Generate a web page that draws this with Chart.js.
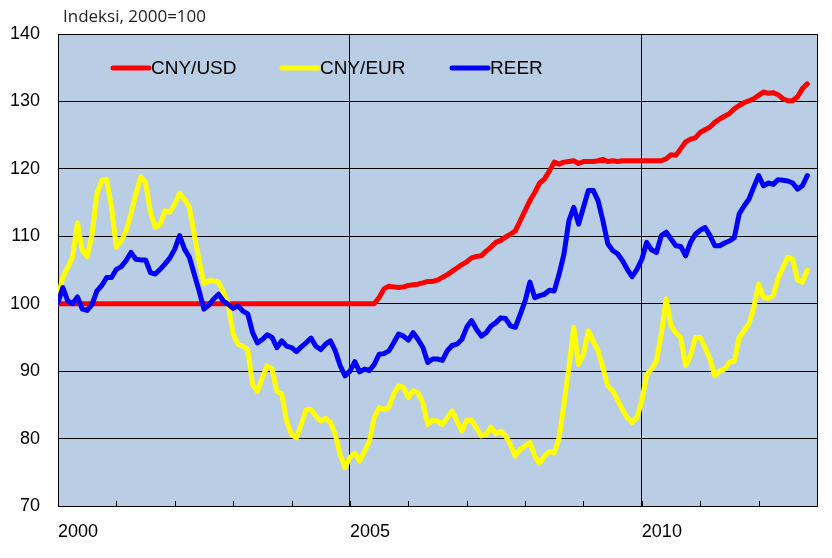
<!DOCTYPE html>
<html>
<head>
<meta charset="utf-8">
<script src="https://cdn.jsdelivr.net/npm/chart.js@4.4.0/dist/chart.umd.min.js"></script>
<style>
  html, body { margin: 0; padding: 0; background: #fff; }
  #wrap { width: 832px; height: 558px; }
</style>
</head>
<body>
<div id="wrap"><canvas id="chart" width="832" height="558"></canvas></div>
<script>
// monthly index values, Jan 2000 onwards (2000=100)
const startYear = 2000;
const seriesNames = ['CNY/USD', 'CNY/EUR', 'REER'];
const seriesColors = ['#ff0000', '#ffff00', '#0000ff'];

const cnyUsd = [
  100, 100, 100, 100, 100, 100, 100, 100, 100, 100, 100, 100,
  100, 100, 100, 100, 100, 100, 100, 100, 100, 100, 100, 100,
  100, 100, 100, 100, 100, 100, 100, 100, 100, 100, 100, 100,
  100, 100, 100, 100, 100, 100, 100, 100, 100, 100, 100, 100,
  100, 100, 100, 100, 100, 100, 100, 100, 100, 100, 100, 100,
  100, 100, 100, 100, 100, 100, 100.9, 102.2, 102.6, 102.5, 102.4, 102.5,
  102.7, 102.8, 102.9, 103.1, 103.3, 103.3, 103.5, 103.9, 104.3, 104.8, 105.3, 105.8,
  106.2, 106.8, 107.0, 107.1, 107.8, 108.4, 109.1, 109.4, 109.9, 110.3, 110.8, 112.3,
  113.8, 115.3, 116.5, 117.9, 118.5, 119.7, 121.0, 120.7, 121.0, 121.1, 121.2, 120.8,
  121.1, 121.1, 121.1, 121.2, 121.4, 121.1, 121.2, 121.1, 121.2, 121.2, 121.2, 121.2,
  121.2, 121.2, 121.2, 121.2, 121.2, 121.5, 122.1, 122.0, 123.0, 124.0, 124.4, 124.6,
  125.4, 125.8, 126.2, 126.9, 127.4, 127.8, 128.2, 128.9, 129.4, 129.8, 130.1, 130.4,
  130.9, 131.4, 131.2, 131.3, 131.0, 130.4, 130.1, 130.1, 130.7, 131.9, 132.6
];

const cnyEur = [
  101, 103.9, 105.4, 106.9, 112, 107.9, 107, 110.3, 116.3, 118.3, 118.4, 114.3,
  108.4, 109.3, 110.8, 113.3, 116.3, 118.8, 118, 113.6, 111.3, 111.8, 113.8, 113.6,
  114.8, 116.4, 115.5, 114.3, 110.3, 106.4, 103, 103.4, 103.4, 103.2, 101.7, 99.9,
  95.5, 94, 93.7, 93.2, 88, 87, 89, 90.8, 90.3, 87, 86.6, 82.6,
  80.6, 80.1, 82.1, 84.3, 84.3, 83.3, 82.6, 83, 82.4, 80.6, 77.6, 75.7,
  77.2, 77.8, 76.7, 78.1, 79.6, 83.1, 84.6, 84.3, 84.6, 86.6, 87.8, 87.6,
  86.1, 87.1, 86.8, 85.3, 82.1, 82.7, 82.6, 82.1, 83.1, 84.1, 82.6, 81.1,
  82.7, 82.7, 81.6, 80.4, 80.6, 81.7, 80.7, 81.1, 80.4, 79.1, 77.4, 78.4,
  78.9, 79.4, 77.4, 76.3, 77.4, 78.1, 77.9, 80.1, 85.1, 90.5, 96.5, 91,
  92.5, 96, 94.5, 93, 90.5, 87.8, 87.1, 85.8, 84.3, 83.1, 82.4, 83.1,
  85.6, 89.5, 90.3, 91.5, 95.5, 100.7, 96.7, 95.7, 95, 90.8, 92.3, 95,
  95, 93.5, 91.8, 89.3, 90, 90.3, 91.3, 91.5, 95, 96, 97, 99.4,
  102.9, 100.9, 100.8, 101.2, 103.7, 105.4, 106.9, 106.6, 103.5, 103.2, 105
];

const reer = [
  100.2, 102.4, 100.4, 100, 101, 99.2, 99, 99.9, 101.9, 102.7, 103.9, 103.9,
  105.1, 105.5, 106.4, 107.6, 106.6, 106.5, 106.5, 104.6, 104.4, 105.1, 105.9, 106.8,
  108.1, 110.1, 108.1, 106.9, 104.4, 101.9, 99.2, 99.8, 100.7, 101.4, 100.4, 99.9,
  99.3, 99.7, 98.9, 98.5, 95.7, 94.2, 94.7, 95.4, 95, 93.5, 94.5, 93.7,
  93.5, 92.9, 93.6, 94.2, 94.9, 93.7, 93.2, 94, 94.5, 93, 90.8, 89.3,
  90, 91.4, 89.9, 90.3, 90.1, 91, 92.5, 92.6, 93, 94.2, 95.5, 95.2,
  94.6, 95.7, 94.7, 93.5, 91.3, 91.8, 91.8, 91.6, 93, 93.8, 94, 94.7,
  96.5, 97.5, 96.2, 95.2, 95.7, 96.7, 97.2, 97.9, 97.8, 96.7, 96.5, 98.4,
  100.4, 103.2, 100.9, 101.2, 101.4, 102, 101.9, 104.4, 107.4, 112.3, 114.3, 111.8,
  114.3, 116.8, 116.8, 115.3, 112.3, 108.9, 107.9, 107.4, 106.4, 105.1, 104, 105.1,
  106.6, 109.1, 108, 107.6, 110.1, 110.6, 109.6, 108.6, 108.5, 107.1, 109.1, 110.3,
  110.9, 111.3, 110.1, 108.6, 108.6, 109, 109.3, 109.8, 113.3, 114.5, 115.5, 117.3,
  119, 117.5, 117.9, 117.7, 118.4, 118.3, 118.2, 117.9, 117, 117.5, 119
];

const yearLabels = [2000, 2005, 2010];
const yearGrid = [2005, 2010];
const unitLabel = 'Indeksi, 2000=100';

const FONT = "'Liberation Sans', Arial, sans-serif";

function toPoints(values) {
  return values.map((v, i) => ({ x: startYear + i / 12, y: v }));
}

const plotDecor = {
  id: 'plotDecor',
  beforeDraw(chart) {
    const { ctx, chartArea: a } = chart;
    ctx.save();
    ctx.fillStyle = '#b9cde5';
    ctx.fillRect(a.left, a.top, a.right - a.left, a.bottom - a.top);
    ctx.restore();
  },
  beforeDatasetsDraw(chart) {
    const { ctx, chartArea: a, scales } = chart;
    ctx.save();
    ctx.strokeStyle = '#000';
    ctx.lineWidth = 1;
    // small inward year ticks along the bottom
    for (let yr = 2001; yr < 2013; yr++) {
      const px = Math.round(scales.x.getPixelForValue(yr)) + 0.5;
      ctx.beginPath();
      ctx.moveTo(px, a.bottom);
      ctx.lineTo(px, a.bottom - 5);
      ctx.stroke();
    }
    ctx.strokeRect(Math.round(a.left) + 0.5, Math.round(a.top) + 0.5,
      Math.round(a.right - a.left), Math.round(a.bottom - a.top));
    ctx.restore();
  },
  afterDraw(chart) {
    const { ctx, chartArea: a } = chart;
    ctx.save();
    // unit label
    ctx.fillStyle = '#222';
    ctx.font = "17px 'Open Sans', sans-serif";
    ctx.textBaseline = 'middle';
    ctx.textAlign = 'left';
    ctx.fillText(unitLabel, 63, 17);
    // legend inside plot
    const offsets = [55, 224, 394];
    ctx.font = '19px ' + FONT;
    ctx.fillStyle = '#000';
    ctx.lineCap = 'round';
    ctx.lineWidth = 5;
    seriesNames.forEach((name, k) => {
      const x0 = a.left + offsets[k];
      const y0 = a.top + 34;
      ctx.strokeStyle = seriesColors[k];
      ctx.beginPath();
      ctx.moveTo(x0, y0);
      ctx.lineTo(x0 + 36, y0);
      ctx.stroke();
      ctx.fillText(name, x0 + 38, y0 + 1);
    });
    ctx.restore();
  }
};

const values = [cnyUsd, cnyEur, reer];

new Chart(document.getElementById('chart'), {
  type: 'line',
  data: {
    datasets: values.map((v, k) => ({
      label: seriesNames[k],
      data: toPoints(v),
      borderColor: seriesColors[k],
      backgroundColor: seriesColors[k],
      borderWidth: 5,
      pointRadius: 0,
      tension: 0,
      borderJoinStyle: 'round',
      borderCapStyle: 'round',
      order: 3 - k
    }))
  },
  options: {
    responsive: false,
    animation: false,
    layout: { padding: { top: 34, right: 10, left: 0, bottom: 0 } },
    plugins: {
      legend: { display: false },
      tooltip: { enabled: false },
      title: { display: false }
    },
    scales: {
      x: {
        type: 'linear',
        min: 2000,
        max: 2013,
        afterFit(scale) { scale.height = 52; },
        border: { display: true, color: '#000', width: 1 },
        grid: {
          drawTicks: false,
          lineWidth: 1,
          color: c => (c.tick && yearGrid.includes(c.tick.value)) ? '#000' : 'rgba(0,0,0,0)'
        },
        ticks: {
          stepSize: 1,
          autoSkip: false,
          maxRotation: 0,
          align: 'start',
          padding: 15,
          color: '#000',
          font: { family: FONT, size: 18 },
          callback: v => yearLabels.includes(v) ? String(v) : ''
        }
      },
      y: {
        min: 70,
        max: 140,
        afterFit(scale) { scale.width = 58; },
        border: { display: true, color: '#000', width: 1 },
        grid: { color: '#000', lineWidth: 1, drawTicks: false },
        ticks: {
          stepSize: 10,
          padding: 18,
          color: '#000',
          font: { family: FONT, size: 18 }
        }
      }
    }
  },
  plugins: [plotDecor]
});
</script>
</body>
</html>
